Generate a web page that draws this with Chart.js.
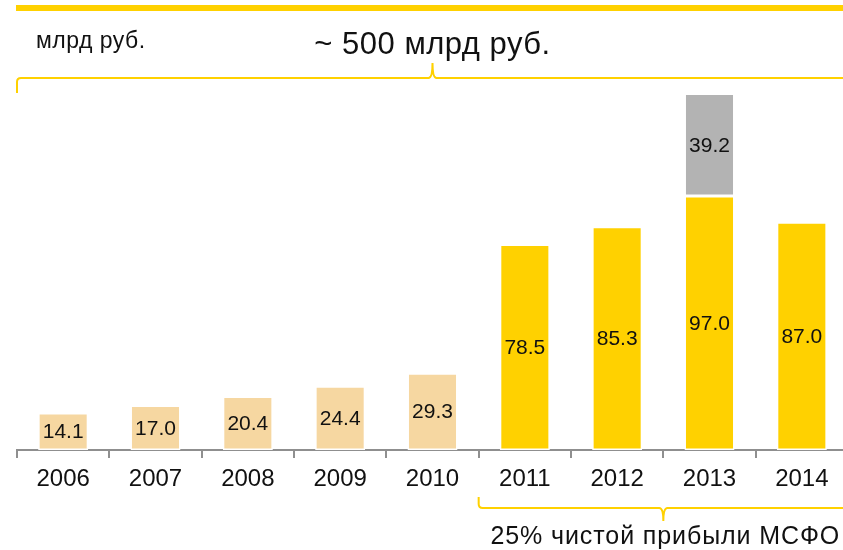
<!DOCTYPE html>
<html>
<head>
<meta charset="utf-8">
<script src="https://cdn.jsdelivr.net/npm/chart.js@4.4.1/dist/chart.umd.min.js"></script>
<style>
  html, body { margin: 0; padding: 0; background: #fff; overflow: hidden; }
  canvas { display: block; }
</style>
</head>
<body>
<canvas id="dividendChart" width="849" height="550"></canvas>
<script>
const years = ['2006', '2007', '2008', '2009', '2010', '2011', '2012', '2013', '2014'];
const paidValues = [14.1, 17.0, 20.4, 24.4, 29.3, 78.5, 85.3, 97.0, 87.0];
const extraValues = [null, null, null, null, null, null, null, 39.2, null];

const unitLabel = 'млрд руб.';
const totalLabel = '~ 500 млрд руб.';
const policyLabel = '25% чистой прибыли МСФО';
const policyFrom = 5; // first year of the new policy (2011)

const tan = '#F6D7A1';
const yellow = '#FFD100';
const grey = '#B3B3B3';
const axisGrey = '#8f8f8f';
const fontFamily = '"Liberation Sans", Arial, sans-serif';

const ctx = document.getElementById('dividendChart').getContext('2d');

// values written in the middle of every bar
const barLabels = {
    id: 'barLabels',
    afterDatasetsDraw(chart) {
        const c = chart.ctx;
        c.save();
        c.font = '21px ' + fontFamily;
        c.fillStyle = '#111';
        c.textAlign = 'center';
        c.textBaseline = 'middle';
        chart.data.datasets.forEach((ds, di) => {
            const meta = chart.getDatasetMeta(di);
            meta.data.forEach((bar, i) => {
                const v = ds.data[i];
                if (v === null || v === undefined) return;
                const mid = (bar.y + bar.base) / 2;
                c.fillText(v.toFixed(1), bar.x, mid + 1);
            });
        });
        c.restore();
    }
};

// top rule, curly brackets and captions
const decorations = {
    id: 'decorations',
    afterDraw(chart) {
        const c = chart.ctx;
        const xs = chart.scales.x;
        const left = chart.chartArea.left;
        const right = chart.chartArea.right;
        const half = (xs.getPixelForValue(1) - xs.getPixelForValue(0)) / 2;
        c.save();

        c.fillStyle = yellow;
        c.fillRect(left - 1, 5, chart.width, 6);

        c.strokeStyle = yellow;
        c.lineWidth = 2;

        // top bracket over all years
        const topMid = (left + right) / 2;
        c.beginPath();
        c.moveTo(left, 93);
        c.lineTo(left, 82);
        c.quadraticCurveTo(left, 78, left + 4, 78);
        c.lineTo(topMid - 4, 78);
        c.quadraticCurveTo(topMid, 78, topMid, 63);
        c.quadraticCurveTo(topMid, 78, topMid + 4, 78);
        c.lineTo(right + 2, 78);
        c.stroke();

        // bottom bracket under the new policy years
        const bLeft = xs.getPixelForValue(policyFrom) - half;
        const bMid = (bLeft + right) / 2;
        c.beginPath();
        c.moveTo(bLeft, 497);
        c.lineTo(bLeft, 504);
        c.quadraticCurveTo(bLeft, 508, bLeft + 4, 508);
        c.lineTo(bMid - 4, 508);
        c.quadraticCurveTo(bMid, 508, bMid, 521);
        c.quadraticCurveTo(bMid, 508, bMid + 4, 508);
        c.lineTo(right + 2, 508);
        c.stroke();

        c.fillStyle = '#111';
        c.textBaseline = 'alphabetic';
        c.textAlign = 'left';
        c.font = '23px ' + fontFamily;
        c.letterSpacing = '0.5px';
        c.fillText(unitLabel, 36, 48);

        c.textAlign = 'center';
        c.font = '31px ' + fontFamily;
        c.letterSpacing = '0.5px';
        c.fillText(totalLabel, topMid, 54);

        c.font = '25px ' + fontFamily;
        c.letterSpacing = '0.9px';
        c.fillText(policyLabel, bMid + 2, 544);
        c.restore();
    }
};

const data = {
    labels: years,
    datasets: [{
        label: 'Дивиденды',
        data: paidValues,
        backgroundColor: paidValues.map((v, i) => i < policyFrom ? tan : yellow),
        borderColor: '#ffffff',
        borderWidth: 1.5,
        borderSkipped: false
    }, {
        label: 'Специальные',
        data: extraValues,
        backgroundColor: grey,
        borderColor: '#ffffff',
        borderWidth: 1.5,
        borderSkipped: false
    }]
};

const config = {
    type: 'bar',
    data: data,
    options: {
        responsive: false,
        animation: false,
        events: [],
        layout: {
            padding: { left: 17, right: 1, top: 5, bottom: 0 }
        },
        datasets: {
            bar: {
                categoryPercentage: 1,
                barPercentage: 0.542
            }
        },
        plugins: {
            legend: { display: false },
            tooltip: { enabled: false }
        },
        scales: {
            x: {
                stacked: true,
                grid: {
                    drawOnChartArea: false,
                    drawTicks: true,
                    tickLength: 8,
                    color: axisGrey,
                    lineWidth: 2
                },
                border: {
                    display: true,
                    color: axisGrey,
                    width: 2
                },
                ticks: {
                    color: '#111',
                    font: { family: fontFamily, size: 24 },
                    padding: 7,
                    maxRotation: 0,
                    autoSkip: false
                },
                afterFit: (scale) => { scale.height = 100; }
            },
            y: {
                stacked: true,
                display: false,
                min: 0,
                max: 170
            }
        }
    },
    plugins: [barLabels, decorations]
};

new Chart(ctx, config);
</script>
</body>
</html>
